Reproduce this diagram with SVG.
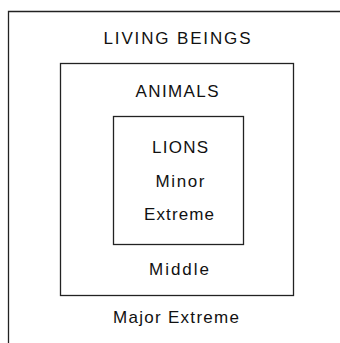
<svg xmlns="http://www.w3.org/2000/svg" width="340" height="343" viewBox="0 0 340 343">
<style>
.box{fill:none;stroke:#222;stroke-width:1.3}
text{font-family:"Liberation Sans",Arial,sans-serif;font-size:17px;fill:#111;text-anchor:middle}
</style>
<rect width="340" height="343" fill="#fff"/>
<g id="living-beings">
<path class="box" d="M8.5,345 V11.5 H342"/>
<text x="177" y="44" textLength="147" lengthAdjust="spacing">LIVING BEINGS</text>
<text x="176" y="323" textLength="126" lengthAdjust="spacing">Major Extreme</text>
</g>
<g id="animals">
<rect class="box" x="60.5" y="63.5" width="233" height="232"/>
<text x="177" y="97" textLength="83" lengthAdjust="spacing">ANIMALS</text>
<text x="179" y="275" textLength="60" lengthAdjust="spacing">Middle</text>
</g>
<g id="lions">
<rect class="box" x="113.5" y="116.5" width="130" height="128"/>
<text x="180" y="153" textLength="56" lengthAdjust="spacing">LIONS</text>
<text x="180" y="187" textLength="49" lengthAdjust="spacing">Minor</text>
<text x="179" y="220" textLength="70" lengthAdjust="spacing">Extreme</text>
</g>
<g id="connectors"/>
</svg>
